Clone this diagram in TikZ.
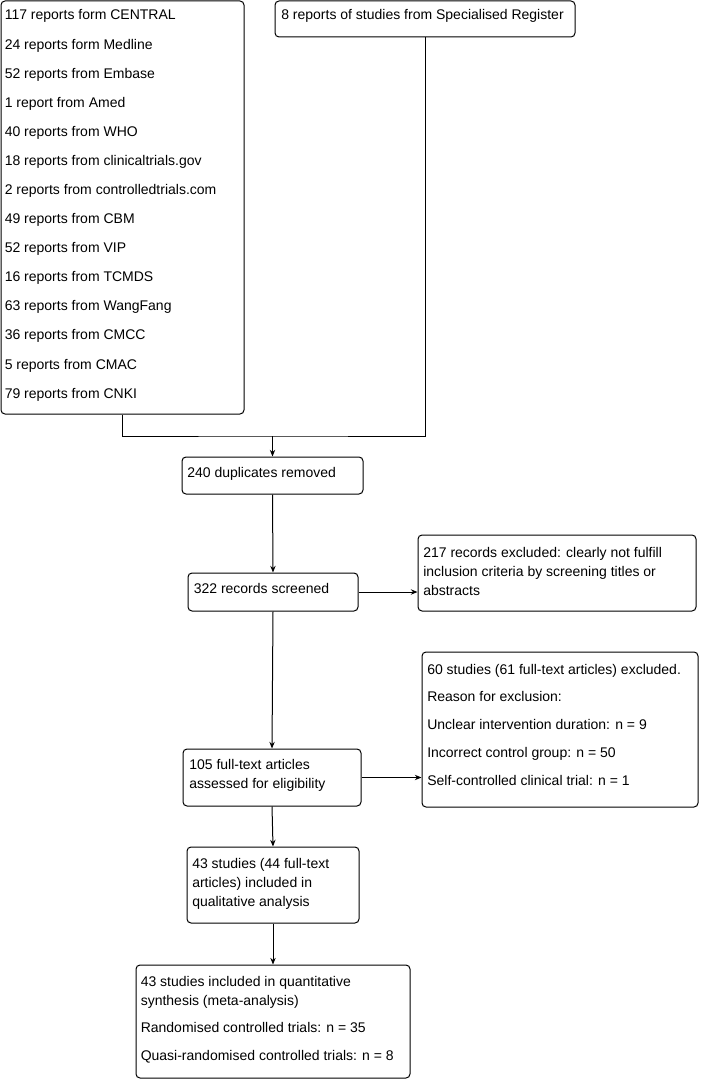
\documentclass[tikz,border=0pt]{standalone}
\usepackage{fontspec}
\setmainfont{Liberation Sans}
\usetikzlibrary{fit,arrows.meta}
\begin{document}
\begin{tikzpicture}[x=0.75pt,y=-0.75pt,
  box/.style={draw, rounded corners=3pt, inner sep=0pt, line width=0.75pt},
  txt/.style={anchor=base west, inner sep=0pt, font=\fontsize{10.5pt}{12pt}\selectfont},
  arr/.style={-{Stealth[length=5pt,width=4pt]}, line width=0.75pt},
  conn/.style={line width=0.75pt}]
\useasboundingbox (0,0) rectangle (700,1080);
% boxes
\node[box, fit={(1,1)(244,414)}] (src) {};
\node[box, fit={(275,1)(575,37)}] (reg) {};
\node[box, fit={(182,457)(363,494)}] (dup) {};
\node[box, fit={(188,573)(358,611)}] (scr) {};
\node[box, fit={(418,535)(696,611)}] (exa) {};
\node[box, fit={(183,749)(361,806)}] (ass) {};
\node[box, fit={(422,652)(698,807)}] (exb) {};
\node[box, fit={(187,847)(359,923)}] (qual) {};
\node[box, fit={(136,965)(410,1078)}] (quant) {};
% texts
\node[txt] (s1) at (4.5,20) {117 reports form CENTRAL};
\node[txt] (s2) at (4.5,49.1) {24 reports form Medline};
\node[txt] (s3) at (4.5,78.2) {52 reports from Embase};
\node[txt] (s4) at (4.5,107.2) {1 report from Amed};
\node[txt] (s5) at (4.5,136.3) {40 reports from WHO};
\node[txt] (s6) at (4.5,165.4) {18 reports from clinicaltrials.gov};
\node[txt] (s7) at (4.5,194.5) {2 reports from controlledtrials.com};
\node[txt] (s8) at (4.5,223.6) {49 reports from CBM};
\node[txt] (s9) at (4.5,252.6) {52 reports from VIP};
\node[txt] (s10) at (4.5,281.7) {16 reports from TCMDS};
\node[txt] (s11) at (4.5,310.8) {63 reports from WangFang};
\node[txt] (s12) at (4.5,339.9) {36 reports from CMCC};
\node[txt] (s13) at (4.5,369) {5 reports from CMAC};
\node[txt] (s14) at (4.5,398) {79 reports from CNKI};
\node[txt] (r1) at (281,20) {8 reports of studies from Specialised Register};
\node[txt] (d1) at (187,477) {240 duplicates removed};
\node[txt] (c1) at (193.5,593) {322 records screened};
\node[txt] (e1) at (423,557) {217 records excluded: clearly not fulfill};
\node[txt] (e2) at (423,576) {inclusion criteria by screening titles or};
\node[txt] (e3) at (423,595) {abstracts};
\node[txt] (a1) at (189,769) {105 full-text articles};
\node[txt] (a2) at (189,788) {assessed for eligibility};
\node[txt] (x1) at (427,674) {60 studies (61 full-text articles) excluded.};
\node[txt] (x2) at (427,701.75) {Reason for exclusion:};
\node[txt] (x3) at (427,729.5) {Unclear intervention duration: n = 9};
\node[txt] (x4) at (427,757.25) {Incorrect control group: n = 50};
\node[txt] (x5) at (427,785) {Self-controlled clinical trial: n = 1};
\node[txt] (q1) at (192,868) {43 studies (44 full-text};
\node[txt] (q2) at (192,887) {articles) included in};
\node[txt] (q3) at (192,906) {qualitative analysis};
\node[txt] (t1) at (140.5,986) {43 studies included in quantitative};
\node[txt] (t2) at (140.5,1005) {synthesis (meta-analysis)};
\node[txt] (t3) at (140.5,1032.75) {Randomised controlled trials: n = 35};
\node[txt] (t4) at (140.5,1060.5) {Quasi-randomised controlled trials: n = 8};
% connectors
\coordinate (j) at (272.5,436);
\draw[conn] (src.south) |- (j) -| (reg.south);
\draw[arr] (j) -- (dup.north);
\draw[arr] (dup.south) -- (scr.north);
\draw[arr] (scr.east) -- (exa.west |- scr.east);
\draw[arr] (scr.south) -- (ass.north);
\draw[arr] (ass.east) -- (exb.west |- ass.east);
\draw[arr] (ass.south) -- (qual.north);
\draw[arr] (qual.south) -- (quant.north);
\end{tikzpicture}
\end{document}
